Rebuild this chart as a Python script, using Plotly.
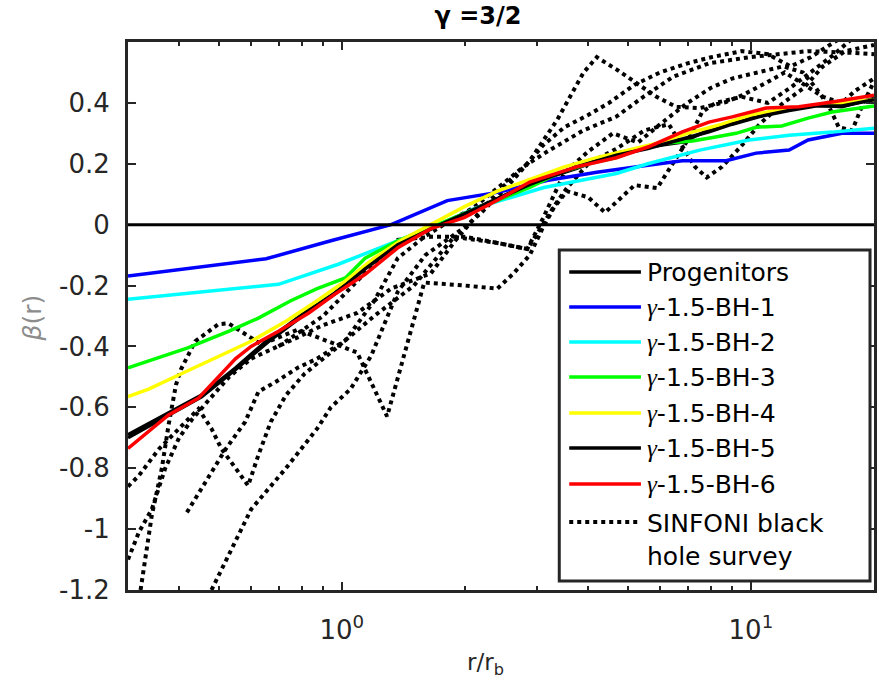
import math
import plotly.graph_objects as go

# ---------------- data ----------------
prog_x = [0.30, 0.377, 0.454, 0.55, 0.66, 0.80, 0.96, 1.14, 1.37, 1.71, 1.99, 2.4, 2.88, 3.75, 4.69, 5.6, 6.8, 7.9, 9.0, 10.5, 12.4, 14.4, 16.7, 20]
prog_y = [-0.69, -0.62, -0.56, -0.47, -0.378, -0.295, -0.225, -0.142, -0.063, -0.003, 0.036, 0.086, 0.135, 0.185, 0.235, 0.255, 0.271, 0.311, 0.334, 0.36, 0.377, 0.393, 0.387, 0.415]

bh1_x = [0.30, 0.653, 0.94, 1.32, 1.81, 2.4, 3.17, 4.2, 5.6, 6.8, 8.7, 10.3, 12.4, 13.8, 16.7, 20]
bh1_y = [-0.169, -0.112, -0.053, 0.0, 0.079, 0.106, 0.145, 0.172, 0.195, 0.21, 0.21, 0.235, 0.245, 0.278, 0.30, 0.30]

bh2_x = [0.30, 0.70, 0.98, 1.37, 1.8, 2.14, 3.12, 4.69, 5.6, 7.5, 9.9, 12.4, 15.8, 20]
bh2_y = [-0.245, -0.196, -0.13, -0.053, 0.01, 0.056, 0.122, 0.168, 0.20, 0.245, 0.278, 0.294, 0.304, 0.317]

bh3_x = [0.30, 0.42, 0.53, 0.625, 0.75, 0.87, 1.02, 1.14, 1.37, 1.65, 1.99, 2.4, 2.88, 3.4, 4.0, 4.69, 5.5, 6.2, 7.2, 8.2, 9.2, 10.3, 11.9, 13.8, 15.8, 20]
bh3_y = [-0.47, -0.405, -0.35, -0.307, -0.25, -0.21, -0.175, -0.11, -0.053, -0.01, 0.036, 0.08, 0.122, 0.17, 0.20, 0.22, 0.255, 0.268, 0.275, 0.288, 0.30, 0.32, 0.324, 0.35, 0.37, 0.39]

bh4_x = [0.30, 0.337, 0.415, 0.50, 0.60, 0.73, 0.87, 1.02, 1.2, 1.4, 1.65, 2.0, 2.4, 2.9, 3.5, 4.2, 5.0, 6.0, 7.0, 8.5, 10, 12, 14, 17, 20]
bh4_y = [-0.565, -0.54, -0.483, -0.433, -0.383, -0.317, -0.25, -0.185, -0.11, -0.05, 0.0, 0.06, 0.11, 0.15, 0.19, 0.22, 0.245, 0.27, 0.30, 0.33, 0.36, 0.38, 0.39, 0.40, 0.41]

bh5_x = [0.30, 0.377, 0.454, 0.55, 0.66, 0.80, 0.96, 1.14, 1.37, 1.71, 1.99, 2.4, 2.88, 3.75, 4.69, 5.6, 6.8, 7.9, 9.0, 10.5, 12.4, 14.4, 16.7, 20]
bh5_y = [-0.70, -0.625, -0.565, -0.475, -0.385, -0.30, -0.228, -0.145, -0.066, -0.005, 0.034, 0.084, 0.132, 0.19, 0.228, 0.25, 0.28, 0.305, 0.33, 0.355, 0.375, 0.39, 0.39, 0.41]

bh6_x = [0.30, 0.377, 0.446, 0.55, 0.60, 0.70, 0.83, 0.96, 1.14, 1.37, 1.65, 1.99, 2.4, 2.88, 3.75, 4.69, 5.6, 6.8, 7.9, 9.0, 10.9, 13.1, 15.8, 18.7, 20]
bh6_y = [-0.735, -0.625, -0.57, -0.44, -0.40, -0.35, -0.29, -0.229, -0.163, -0.076, -0.013, 0.023, 0.08, 0.14, 0.19, 0.22, 0.255, 0.305, 0.337, 0.354, 0.383, 0.387, 0.403, 0.42, 0.425]

# SINFONI black hole survey galaxies (dotted)
sin1_x = [0.322, 0.343, 0.363, 0.377, 0.393, 0.404, 0.438, 0.499, 0.528, 0.58, 0.635, 0.78, 1.09, 1.29, 1.45, 1.59, 2.0, 2.4, 2.63, 2.88, 3.1, 3.3, 3.55, 4.0, 4.4, 5.2, 5.9, 6.3, 7.1, 7.6, 8.2, 9.5, 11, 12.5, 14, 16, 18]
sin1_y = [-1.2, -0.955, -0.80, -0.658, -0.526, -0.476, -0.383, -0.327, -0.324, -0.36, -0.393, -0.345, -0.42, -0.63, -0.38, -0.19, -0.20, -0.21, -0.16, -0.10, -0.01, 0.056, 0.11, 0.09, 0.04, 0.13, 0.12, 0.18, 0.29, 0.37, 0.40, 0.42, 0.40, 0.45, 0.50, 0.56, 0.62]

sin2_x = [0.30, 0.319, 0.357, 0.40, 0.43, 0.446, 0.48, 0.508, 0.55, 0.59, 0.625, 0.67, 0.73, 0.81, 0.94, 1.2, 1.5, 1.88, 2.4, 2.84, 3.1, 3.5, 4.0, 4.6, 5.3, 6.0, 7.0, 8.0, 9.0, 10.5, 12, 13.4, 14.4, 15.5, 16.4, 17.7, 18.7, 20]
sin2_y = [-0.86, -0.824, -0.737, -0.67, -0.625, -0.605, -0.67, -0.737, -0.80, -0.857, -0.757, -0.648, -0.56, -0.49, -0.42, -0.30, -0.20, -0.04, -0.06, -0.08, 0.02, 0.17, 0.24, 0.30, 0.27, 0.33, 0.40, 0.45, 0.48, 0.50, 0.52, 0.50, 0.45, 0.39, 0.32, 0.31, 0.39, 0.47]

sin3_x = [0.30, 0.319, 0.343, 0.37, 0.40, 0.43, 0.47, 0.53, 0.6, 0.7, 0.78, 0.9, 1.09, 1.32, 1.65, 1.9, 2.2, 2.5, 2.84, 3.1, 3.5, 4.0, 4.5, 5.2, 6.0, 7.0, 8.0, 9.5, 11, 12.5, 14, 16, 18, 20]
sin3_y = [-1.1, -1.01, -0.935, -0.80, -0.70, -0.64, -0.58, -0.50, -0.44, -0.40, -0.37, -0.33, -0.29, -0.21, -0.16, -0.05, 0.05, 0.13, 0.20, 0.26, 0.32, 0.36, 0.40, 0.46, 0.50, 0.53, 0.55, 0.57, 0.56, 0.52, 0.55, 0.60, 0.64, 0.66]

sin4_x = [0.418, 0.464, 0.52, 0.58, 0.625, 0.69, 0.78, 0.87, 1.02, 1.2, 1.37, 1.59, 1.84, 2.1, 2.4, 2.78, 3.22, 3.9, 4.69, 5.46, 6.46, 7.9, 9.9, 11.5, 13.8, 17.3, 20]
sin4_y = [-0.945, -0.846, -0.737, -0.648, -0.549, -0.516, -0.47, -0.44, -0.38, -0.25, -0.11, -0.04, 0.013, 0.056, 0.12, 0.19, 0.245, 0.31, 0.355, 0.42, 0.486, 0.53, 0.55, 0.56, 0.57, 0.565, 0.56]

sin5_x = [0.48, 0.6, 0.73, 0.87, 0.94, 1.05, 1.18, 1.37, 1.6, 1.99, 2.18, 2.58, 2.88, 3.36, 3.9, 4.2, 4.69, 5.25, 5.88, 6.57, 7.5, 8.7, 9.55, 10.9, 12.1, 13.5, 15, 16.7, 18, 20]
sin5_y = [-1.2, -0.935, -0.80, -0.67, -0.60, -0.54, -0.43, -0.22, -0.10, -0.01, 0.036, 0.136, 0.21, 0.344, 0.50, 0.55, 0.51, 0.466, 0.42, 0.387, 0.383, 0.403, 0.426, 0.466, 0.50, 0.46, 0.42, 0.40, 0.44, 0.48]

sin6_x = [0.7, 0.9, 1.1, 1.37, 1.65, 2.0, 2.4, 2.84, 3.1, 3.3, 3.55, 4.0, 4.7, 5.5, 6.3, 6.8, 7.3, 7.8, 8.5, 9.5, 10.5, 12, 13.5, 15, 17, 20]
sin6_y = [-0.40, -0.30, -0.18, -0.05, -0.04, -0.04, -0.06, -0.08, 0.0, 0.06, 0.12, 0.20, 0.25, 0.31, 0.33, 0.26, 0.19, 0.155, 0.19, 0.26, 0.33, 0.40, 0.45, 0.52, 0.57, 0.59]

y_tick_vals = [-1.2, -1.0, -0.8, -0.6, -0.4, -0.2, 0.0, 0.2, 0.4]
y_tick_text = ["-1.2", "-1", "-0.8", "-0.6", "-0.4", "-0.2", "0", "0.2", "0.4"]
x_tick_vals = [1, 10]
x_tick_text = ["10<sup>0</sup>", "10<sup>1</sup>"]
x_minor_vals = [0.3, 0.4, 0.5, 0.6, 0.7, 0.8, 0.9, 2, 3, 4, 5, 6, 7, 8, 9, 20]

legend_labels = ["Progenitors", "γ-1.5-BH-1", "γ-1.5-BH-2", "γ-1.5-BH-3",
                 "γ-1.5-BH-4", "γ-1.5-BH-5", "γ-1.5-BH-6",
                 "SINFONI black<br>hole survey"]
legend_colors = ["#000000", "#0000ff", "#00ffff", "#00ff00",
                 "#ffff00", "#000000", "#ff0000", "#000000"]

# ---------------- figure ----------------
FONT = "DejaVu Sans, Verdana, Arial, sans-serif"
AX = "#262626"
W, H = 879, 689
L, R, T, B = 128, 2, 42, 99
PW, PH = W - L - R, H - T - B


def px(xp):
    return (xp - L) / PW


def py(yp):
    return (H - B - yp) / PH


def gam(label):
    return label.replace("γ", '<span style="font-family:Liberation Serif"><i>γ</i></span>')


fig = go.Figure()

sinfoni = [(sin1_x, sin1_y), (sin2_x, sin2_y), (sin3_x, sin3_y),
           (sin4_x, sin4_y), (sin5_x, sin5_y), (sin6_x, sin6_y)]
for sx, sy in sinfoni:
    fig.add_trace(go.Scatter(
        x=sx, y=sy, mode="lines", showlegend=False,
        line=dict(color="black", width=4, dash="4px,4px"),
        name=legend_labels[7].replace("<br>", " ")))

sims = [(prog_x, prog_y), (bh1_x, bh1_y), (bh2_x, bh2_y), (bh3_x, bh3_y),
        (bh4_x, bh4_y), (bh5_x, bh5_y), (bh6_x, bh6_y)]
for i, (sx, sy) in enumerate(sims):
    fig.add_trace(go.Scatter(x=sx, y=sy, mode="lines", showlegend=False,
                             name=legend_labels[i],
                             line=dict(color=legend_colors[i], width=3.5)))

shapes = [dict(type="line", xref="paper", x0=0, x1=1, yref="y", y0=0, y1=0,
               line=dict(color="black", width=3), layer="above")]
annotations = []

# legend box (drawn by hand so that the sample lines have MATLAB's length)
shapes.append(dict(type="rect", xref="paper", yref="paper",
                   x0=px(561), x1=px(873), y0=py(581), y1=py(250),
                   fillcolor="white", line=dict(color=AX, width=3), layer="above"))
row_y = [272, 307, 342, 377, 413, 448, 484, 522]
for i, lab in enumerate(legend_labels):
    dotted = i == 7
    shapes.append(dict(type="line", xref="paper", yref="paper",
                       x0=px(571), x1=px(643), y0=py(row_y[i]), y1=py(row_y[i]),
                       line=dict(color=legend_colors[i], width=4 if dotted else 3.5,
                                 dash="4px,4px" if dotted else "solid"),
                       layer="above"))
    yc = row_y[i] if not dotted else row_y[i] + 18
    annotations.append(dict(text=gam(lab), xref="paper", yref="paper",
                            x=px(647), y=py(yc), xanchor="left", yanchor="middle",
                            align="left", showarrow=False,
                            font=dict(family=FONT, size=25, color="black")))

annotations.append(dict(text="r/r<sub>b</sub>", xref="paper", yref="paper",
                        x=px(487), y=py(664), showarrow=False,
                        xanchor="center", yanchor="middle",
                        font=dict(family=FONT, size=23, color=AX)))
annotations.append(dict(text="<i>β</i>(r)", xref="paper", yref="paper",
                        x=px(33), y=py(318), showarrow=False, textangle=-90,
                        xanchor="center", yanchor="middle",
                        font=dict(family=FONT, size=25, color="#8c8c8c")))

fig.update_layout(
    width=W, height=H,
    margin=dict(l=L, r=R, t=T, b=B),
    plot_bgcolor="white", paper_bgcolor="white",
    font=dict(family=FONT, size=25, color=AX),
    title=dict(text="<b>γ =3/2</b>", x=478 / W, xref="container", xanchor="center",
               y=1 - 16 / H, yref="container", yanchor="middle",
               font=dict(family=FONT, size=24, color="black")),
    showlegend=False,
    xaxis=dict(type="log", range=[math.log10(0.3), math.log10(20)],
               tickvals=x_tick_vals, ticktext=x_tick_text,
               ticks="inside", ticklen=8, tickwidth=2, tickcolor=AX,
               showline=True, linewidth=3, linecolor=AX, mirror="allticks",
               showgrid=False, zeroline=False, ticklabelstandoff=15,
               tickfont=dict(family=FONT, size=26, color=AX),
               minor=dict(tickvals=x_minor_vals, ticks="inside", ticklen=4,
                          tickwidth=2, tickcolor=AX, showgrid=False)),
    yaxis=dict(range=[-1.2, 0.6], tickvals=y_tick_vals, ticktext=y_tick_text,
               ticks="inside", ticklen=8, tickwidth=2, tickcolor=AX,
               showline=True, linewidth=3, linecolor=AX, mirror="allticks",
               showgrid=False, zeroline=False, ticklabelstandoff=10,
               tickfont=dict(family=FONT, size=26, color=AX)),
    shapes=shapes,
    annotations=annotations,
)

fig.write_html("out.html")
